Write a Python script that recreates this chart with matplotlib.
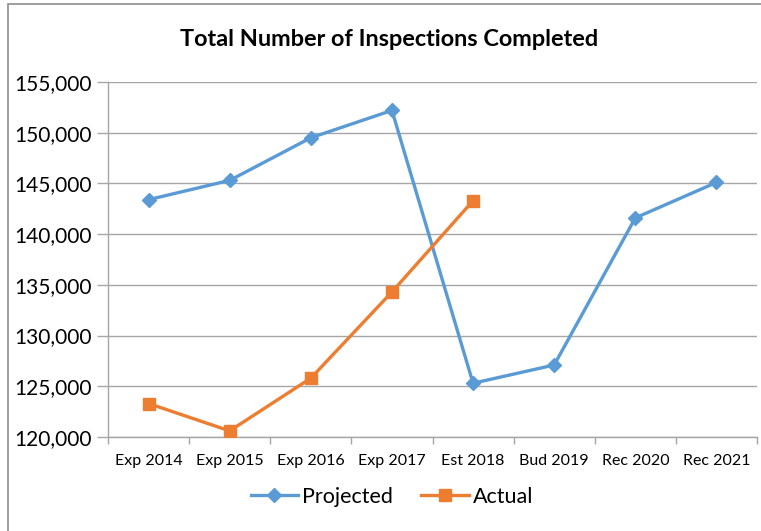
import numpy as np
import matplotlib.pyplot as plt
from matplotlib.patches import Rectangle
from matplotlib.ticker import FuncFormatter

plt.rcParams['font.family'] = ['Lato', 'DejaVu Sans']

categories = ['Exp 2014', 'Exp 2015', 'Exp 2016', 'Exp 2017', 'Est 2018',
              'Bud 2019', 'Rec 2020', 'Rec 2021']
projected = [143400, 145300, 149500, 152200, 125300, 127100, 141600, 145100]
actual = [123300, 120600, 125800, 134300, 143300]

W, H = 761, 531
fig = plt.figure(figsize=(W / 100, H / 100), dpi=100)
ax = fig.add_axes([108 / W, 1 - 437 / H, (757 - 108) / W, (437 - 82) / H])

# chart border (only top and left visible in the reference)
fig.patches.append(Rectangle((8 / W, -0.1), 1.2, 1 - 4 / H + 0.1, transform=fig.transFigure,
                             fill=False, edgecolor='#8c8c8c', linewidth=1.2))

x = np.arange(len(categories))
blue = '#5B9BD5'
orange = '#ED7D31'
ax.plot(x, projected, color=blue, linewidth=2.4, marker='D', markersize=7,
        label='Projected', zorder=3)
ax.plot(x[:len(actual)], actual, color=orange, linewidth=2.4, marker='s', markersize=8,
        label='Actual', zorder=3)

ax.set_xlim(-0.5, len(categories) - 0.5)
ax.set_ylim(120000, 155000)
ax.set_yticks(np.arange(120000, 155001, 5000))
ax.yaxis.set_major_formatter(FuncFormatter(lambda v, p: f'{int(v):,}'))
ax.yaxis.grid(True, color='#a6a6a6', linewidth=1)
ax.set_axisbelow(True)

ax.set_xticks(x)
ax.set_xticklabels(categories, fontsize=11.5)
ax.set_xticks(np.arange(-0.5, len(categories)), minor=True)
ax.tick_params(axis='x', which='major', length=0, pad=12)
ax.tick_params(axis='x', which='minor', length=5, color='#a6a6a6', width=1)
ax.tick_params(axis='y', length=8, color='#a6a6a6', width=1, labelsize=15, pad=4)

for s in ['top', 'right']:
    ax.spines[s].set_visible(False)
for s in ['left', 'bottom']:
    ax.spines[s].set_color('#a6a6a6')
    ax.spines[s].set_linewidth(1)

fig.text(389 / W, 1 - 40 / H, 'Total Number of Inspections Completed', ha='center',
         va='center', fontsize=16.9, fontweight='bold')

fig.legend(loc='center', bbox_to_anchor=(392 / W, 1 - 497 / H), ncol=2, frameon=False,
           fontsize=15.5, handlelength=2.2, columnspacing=1.3, handletextpad=0.2)

fig.savefig('out.png', dpi=100)
